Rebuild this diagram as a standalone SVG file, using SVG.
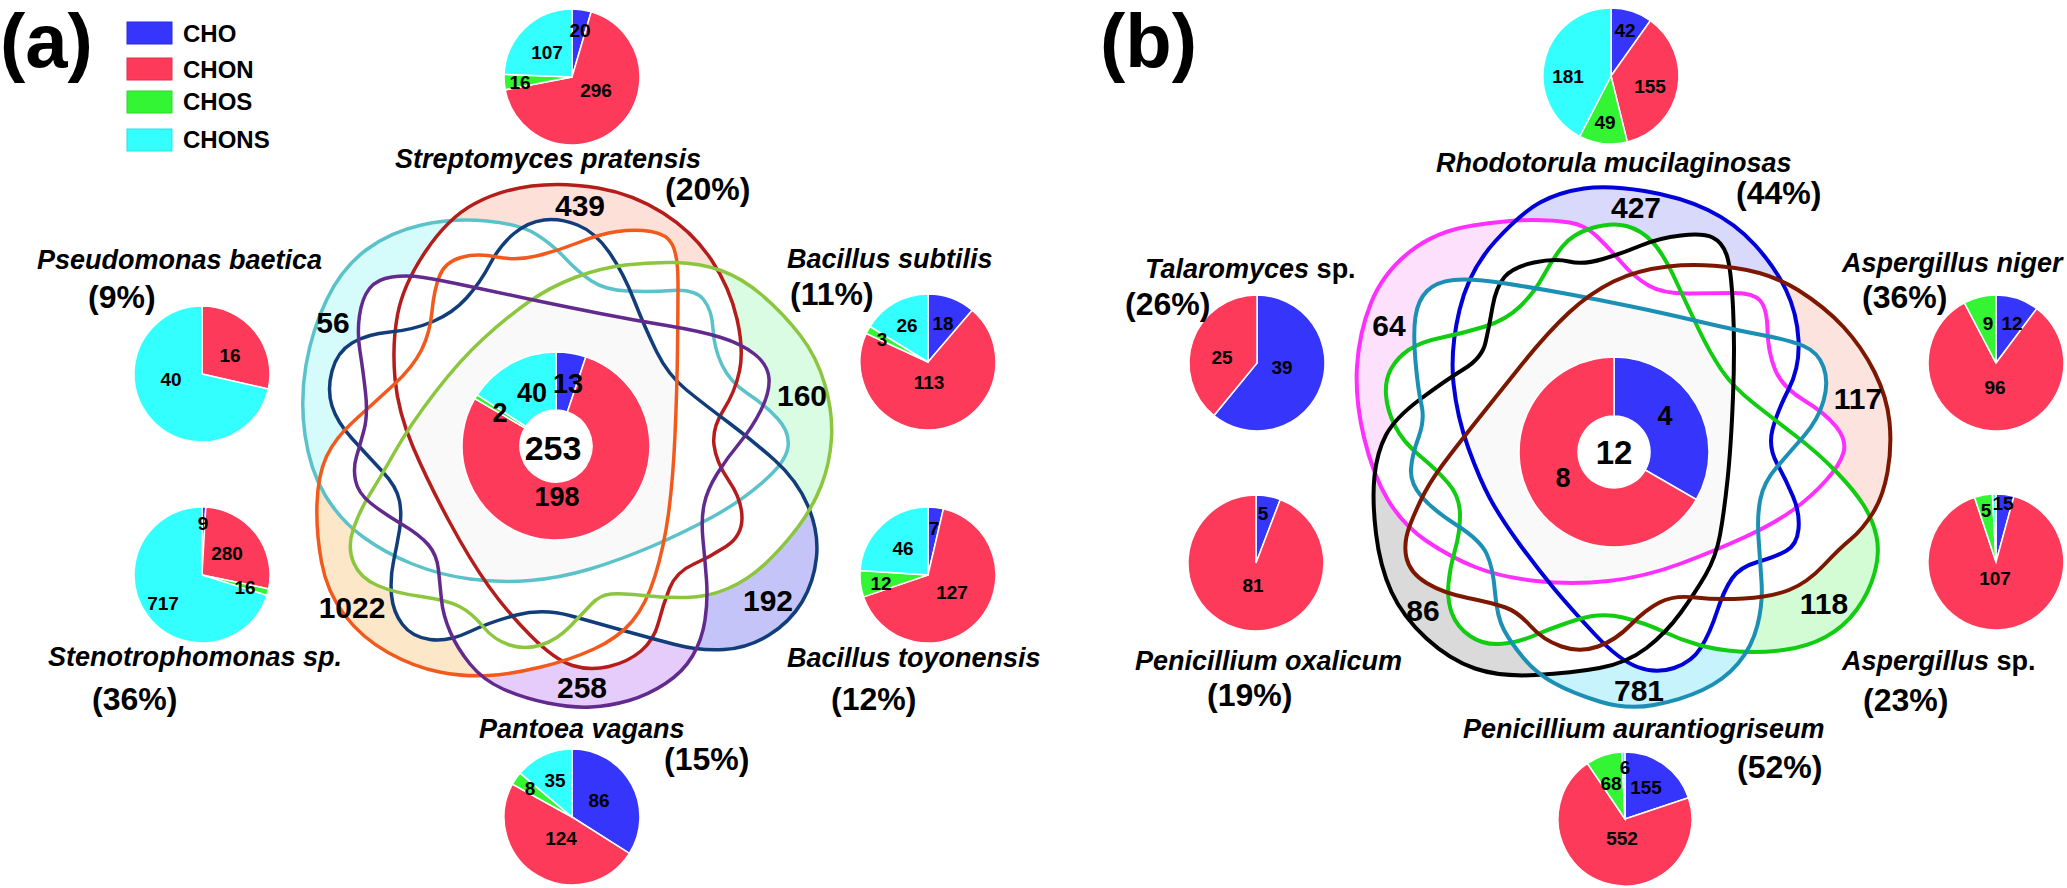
<svg xmlns="http://www.w3.org/2000/svg" width="2067" height="888" viewBox="0 0 2067 888">
<style>
text{font-family:"Liberation Sans",Arial,sans-serif;font-weight:bold;fill:#000}
.sp{font-size:27px;font-style:italic}
.pc{font-size:32px}
.rg{font-size:30px;text-anchor:middle}
.pl{font-size:19px;text-anchor:middle}
.dl{font-size:27px;text-anchor:middle}
.lg{font-size:24px}
.ca{fill:none;stroke-width:3.5}
.cb{fill:none;stroke-width:4}
.s{stroke:#fff;stroke-width:1.5}
.cho{fill:#3535fc}.chon{fill:#fd3a5a}.chos{fill:#33f533}.chons{fill:#33ffff}
</style>
<defs>
<path id="aR" d="M531.5,186 Q563,182 598,188 Q633,194 663,213 Q693,232 711.5,260 Q730,288 737,319 Q744,350 739.5,371 Q735,392 723.5,410 Q712,428 714,445 Q716,462 729,481 Q742,500 742,518 Q742,536 726,546.5 Q710,557 693,564.5 Q676,572 669.5,588.5 Q663,605 658.5,622.5 Q654,640 641,651 Q628,662 609,666.5 Q590,671 572.5,665.5 Q555,660 531,636 Q507,612 488.5,586 Q470,560 449,521 Q428,482 413,447 Q398,412 395,378.5 Q392,345 397.5,315 Q403,285 425.5,251.5 Q448,218 474,204 Q500,190 531.5,186 Z"/>
<path id="aC" d="M421.5,225 Q453,218 486.5,221 Q520,224 536.5,234.5 Q553,245 565.5,258.5 Q578,272 591.5,281 Q605,290 627.5,291 Q650,292 672.5,290.5 Q695,289 703.5,299.5 Q712,310 713,329 Q714,348 722,365 Q730,382 747.5,393.5 Q765,405 777.5,418.5 Q790,432 788,447 Q786,462 763,482 Q740,502 711.5,517.5 Q683,533 651.5,546.5 Q620,560 590,569 Q560,578 530,580.5 Q500,583 470,579 Q440,575 412.5,564 Q385,553 362.5,536.5 Q340,520 325,495 Q310,470 305,435 Q300,400 306,365 Q312,330 327,299 Q342,268 366,250 Q390,232 421.5,225 Z"/>
<path id="aN" d="M544,220 Q560,218 577.5,225 Q595,232 609,252 Q623,272 634,300 Q645,328 656.5,351.5 Q668,375 686.5,390 Q705,405 728.5,422.5 Q752,440 774.5,460 Q797,480 808,506 Q819,532 816.5,557 Q814,582 802,602 Q790,622 769,635 Q748,648 724,649.5 Q700,651 675,644.5 Q650,638 625,631 Q600,624 571.5,616 Q543,608 516.5,615 Q490,622 469,632 Q448,642 430,639.5 Q412,637 402.5,624.5 Q393,612 391.5,595 Q390,578 393.5,561.5 Q397,545 399.5,530 Q402,515 399.5,501 Q397,487 382,471 Q367,455 352,438.5 Q337,422 332,406 Q327,390 332,371 Q337,352 352,343 Q367,334 390,332 Q413,330 433,321.5 Q453,313 466.5,298 Q480,283 490,264 Q500,245 514,233.5 Q528,222 544,220 Z"/>
<path id="aO" d="M580,242 Q600,234 617.5,231.5 Q635,229 651,231.5 Q667,234 672.5,245 Q678,256 678,283 Q678,310 677.5,350 Q677,390 675,435 Q673,480 668.5,513.5 Q664,547 655,576 Q646,605 632,621.5 Q618,638 594,649 Q570,660 541,667 Q512,674 488.5,675.5 Q465,677 439.5,672 Q414,667 388,652.5 Q362,638 344.5,615 Q327,592 321.5,562 Q316,532 317,503.5 Q318,475 326.5,456.5 Q335,438 355,420 Q375,402 394,384.5 Q413,367 421.5,350 Q430,333 432,311.5 Q434,290 439.5,276 Q445,262 461,257.5 Q477,253 497,257 Q517,261 538.5,255.5 Q560,250 580,242 Z"/>
<path id="aG" d="M625,265 Q650,262 675,262.5 Q700,263 721,270.5 Q742,278 762.5,295.5 Q783,313 800,335 Q817,357 825,385 Q833,413 831.5,438 Q830,463 821.5,485 Q813,507 798,527 Q783,547 765.5,563.5 Q748,580 728,588.5 Q708,597 686.5,597.5 Q665,598 643.5,595.5 Q622,593 611,594 Q600,595 591.5,604 Q583,613 570,626.5 Q557,640 541,645 Q525,650 509.5,645 Q494,640 483,626.5 Q472,613 459.5,606.5 Q447,600 421,596.5 Q395,593 377.5,585.5 Q360,578 353.5,562.5 Q347,547 353.5,528.5 Q360,510 370,494 Q380,478 395,451.5 Q410,425 435,392.5 Q460,360 483.5,338.5 Q507,317 528.5,302 Q550,287 575,277.5 Q600,268 625,265 Z"/>
<path id="aP" d="M369.5,288.5 Q377,279 392,277 Q407,275 423.5,277.5 Q440,280 470,286.5 Q500,293 533.5,300 Q567,307 600,313.5 Q633,320 666.5,325.5 Q700,331 721,337.5 Q742,344 755,354.5 Q768,365 769,378.5 Q770,392 761,410 Q752,428 739.5,443 Q727,458 717,474 Q707,490 704,505 Q701,520 703,540 Q705,560 706.5,580 Q708,600 705,620 Q702,640 692.5,656 Q683,672 665.5,683.5 Q648,695 629,700.5 Q610,706 591,707 Q572,708 547.5,703 Q523,698 503,689 Q483,680 470,664 Q457,648 450,631.5 Q443,615 441.5,600 Q440,585 438.5,570 Q437,555 428.5,545 Q420,535 401.5,524 Q383,513 370.5,503 Q358,493 355.5,480.5 Q353,468 356.5,456.5 Q360,445 364,430 Q368,415 365.5,392.5 Q363,370 360,351.5 Q357,333 359.5,315.5 Q362,298 369.5,288.5 Z"/>
<path id="bM" d="M1473,225.5 Q1510,220 1532,220 Q1554,220 1569.5,222.5 Q1585,225 1596.5,236 Q1608,247 1621,262 Q1634,277 1648.5,285.5 Q1663,294 1690,293.5 Q1717,293 1735,293 Q1753,293 1760,300.5 Q1767,308 1767.5,330 Q1768,352 1775,369.5 Q1782,387 1803.5,400 Q1825,413 1836,426.5 Q1847,440 1843.5,452.5 Q1840,465 1825.5,481 Q1811,497 1793,510 Q1775,523 1746,536.5 Q1717,550 1681,563.5 Q1645,577 1608.5,581 Q1572,585 1536,581 Q1500,577 1475,567 Q1450,557 1426.5,541 Q1403,525 1388,500 Q1373,475 1364,437.5 Q1355,400 1357,366.5 Q1359,333 1371,303 Q1383,273 1409.5,252 Q1436,231 1473,225.5 Z"/>
<path id="bB" d="M1584,188.5 Q1608,185 1644.5,191 Q1681,197 1708,210 Q1735,223 1755,245 Q1775,267 1786,290 Q1797,313 1798.5,340 Q1800,367 1788.5,389.5 Q1777,412 1772.5,429.5 Q1768,447 1777,463.5 Q1786,480 1793,496.5 Q1800,513 1798.5,529 Q1797,545 1786,551 Q1775,557 1757.5,562 Q1740,567 1732,578.5 Q1724,590 1717,611.5 Q1710,633 1701,647.5 Q1692,662 1674,668 Q1656,674 1637.5,667 Q1619,660 1595.5,635 Q1572,610 1554,588.5 Q1536,567 1518,542 Q1500,517 1490,498.5 Q1480,480 1468.5,448.5 Q1457,417 1453.5,383.5 Q1450,350 1459.5,310 Q1469,270 1495.5,241 Q1522,212 1541,202 Q1560,192 1584,188.5 Z"/>
<path id="bG" d="M1592,228 Q1612,222 1626.5,226 Q1641,230 1652,241.5 Q1663,253 1675.5,280 Q1688,307 1699,330 Q1710,353 1721.5,370 Q1733,387 1754,403.5 Q1775,420 1796.5,436.5 Q1818,453 1836,471.5 Q1854,490 1863.5,505 Q1873,520 1876.5,536.5 Q1880,553 1874.5,573 Q1869,593 1856.5,610 Q1844,627 1825.5,637 Q1807,647 1783.5,650 Q1760,653 1738.5,651.5 Q1717,650 1699,645 Q1681,640 1663,631.5 Q1645,623 1623,617.5 Q1601,612 1577.5,619.5 Q1554,627 1535.5,635 Q1517,643 1500,644 Q1483,645 1470,636 Q1457,627 1452,613.5 Q1447,600 1448.5,583.5 Q1450,567 1455,550 Q1460,533 1460,515 Q1460,497 1448.5,483.5 Q1437,470 1420,456 Q1403,442 1395,426 Q1387,410 1386,395 Q1385,380 1391,369 Q1397,358 1408.5,350 Q1420,342 1442,337.5 Q1464,333 1485,326.5 Q1506,320 1520,306.5 Q1534,293 1543,276.5 Q1552,260 1562,247 Q1572,234 1592,228 Z"/>
<path id="bK" d="M1569,261.5 Q1583,265 1603,259 Q1623,253 1641,245.5 Q1659,238 1681,235.5 Q1703,233 1712.5,237.5 Q1722,242 1726.5,254.5 Q1731,267 1733,307 Q1735,347 1733,397 Q1731,447 1727.5,480 Q1724,513 1720,535 Q1716,557 1705.5,575 Q1695,593 1680.5,613 Q1666,633 1646.5,648 Q1627,663 1599.5,668 Q1572,673 1536,675 Q1500,677 1475,668.5 Q1450,660 1426.5,638.5 Q1403,617 1391.5,592 Q1380,567 1376,533.5 Q1372,500 1374.5,476 Q1377,452 1386,435 Q1395,418 1420.5,399 Q1446,380 1464,369 Q1482,358 1485.5,342.5 Q1489,327 1492.5,307 Q1496,287 1504.5,277 Q1513,267 1534,262.5 Q1555,258 1569,261.5 Z"/>
<path id="bT" d="M1453.5,280 Q1471,278 1506,283.5 Q1541,289 1570.5,294.5 Q1600,300 1631.5,306.5 Q1663,313 1699,321.5 Q1735,330 1762,335 Q1789,340 1803.5,346 Q1818,352 1823.5,367 Q1829,382 1823.5,401 Q1818,420 1803.5,436.5 Q1789,453 1776.5,467.5 Q1764,482 1760.5,498.5 Q1757,515 1758.5,537.5 Q1760,560 1761.5,581.5 Q1763,603 1757.5,625 Q1752,647 1738,663.5 Q1724,680 1702.5,690 Q1681,700 1654,705 Q1627,710 1599.5,701.5 Q1572,693 1554,683 Q1536,673 1523.5,658 Q1511,643 1504,630 Q1497,617 1495,592 Q1493,567 1486.5,553.5 Q1480,540 1456.5,525 Q1433,510 1421.5,496.5 Q1410,483 1411,469 Q1412,455 1418.5,437.5 Q1425,420 1421.5,405 Q1418,390 1415.5,361.5 Q1413,333 1415.5,316.5 Q1418,300 1427,291 Q1436,282 1453.5,280 Z"/>
<path id="bW" d="M1668,266.5 Q1699,263 1735,268 Q1771,273 1798,290 Q1825,307 1843.5,327 Q1862,347 1874.5,372 Q1887,397 1889.5,422 Q1892,447 1887.5,472 Q1883,497 1872.5,513.5 Q1862,530 1851,539 Q1840,548 1823.5,565.5 Q1807,583 1789,590 Q1771,597 1744,598.5 Q1717,600 1695.5,597.5 Q1674,595 1659.5,602.5 Q1645,610 1630.5,625 Q1616,640 1598,646.5 Q1580,653 1561.5,646.5 Q1543,640 1530.5,626 Q1518,612 1505.5,607.5 Q1493,603 1468,598 Q1443,593 1426.5,583 Q1410,573 1406.5,558 Q1403,543 1410,525 Q1417,507 1425,492 Q1433,477 1450,455 Q1467,433 1481,415.5 Q1495,398 1521,365.5 Q1547,333 1568.5,313 Q1590,293 1613.5,281.5 Q1637,270 1668,266.5 Z"/>
<mask id="mR" maskUnits="userSpaceOnUse" x="0" y="0" width="2067" height="888"><rect width="2067" height="888" fill="#fff"/><use href="#aC" fill="#000"/><use href="#aN" fill="#000"/><use href="#aO" fill="#000"/><use href="#aG" fill="#000"/><use href="#aP" fill="#000"/></mask>
<mask id="mC" maskUnits="userSpaceOnUse" x="0" y="0" width="2067" height="888"><rect width="2067" height="888" fill="#fff"/><use href="#aR" fill="#000"/><use href="#aN" fill="#000"/><use href="#aO" fill="#000"/><use href="#aG" fill="#000"/><use href="#aP" fill="#000"/></mask>
<mask id="mN" maskUnits="userSpaceOnUse" x="0" y="0" width="2067" height="888"><rect width="2067" height="888" fill="#fff"/><use href="#aR" fill="#000"/><use href="#aC" fill="#000"/><use href="#aO" fill="#000"/><use href="#aG" fill="#000"/><use href="#aP" fill="#000"/></mask>
<mask id="mO" maskUnits="userSpaceOnUse" x="0" y="0" width="2067" height="888"><rect width="2067" height="888" fill="#fff"/><use href="#aR" fill="#000"/><use href="#aC" fill="#000"/><use href="#aN" fill="#000"/><use href="#aG" fill="#000"/><use href="#aP" fill="#000"/></mask>
<mask id="mG" maskUnits="userSpaceOnUse" x="0" y="0" width="2067" height="888"><rect width="2067" height="888" fill="#fff"/><use href="#aR" fill="#000"/><use href="#aC" fill="#000"/><use href="#aN" fill="#000"/><use href="#aO" fill="#000"/><use href="#aP" fill="#000"/></mask>
<mask id="mP" maskUnits="userSpaceOnUse" x="0" y="0" width="2067" height="888"><rect width="2067" height="888" fill="#fff"/><use href="#aR" fill="#000"/><use href="#aC" fill="#000"/><use href="#aN" fill="#000"/><use href="#aO" fill="#000"/><use href="#aG" fill="#000"/></mask>
<mask id="nM" maskUnits="userSpaceOnUse" x="0" y="0" width="2067" height="888"><rect width="2067" height="888" fill="#fff"/><use href="#bB" fill="#000"/><use href="#bG" fill="#000"/><use href="#bK" fill="#000"/><use href="#bT" fill="#000"/><use href="#bW" fill="#000"/></mask>
<mask id="nB" maskUnits="userSpaceOnUse" x="0" y="0" width="2067" height="888"><rect width="2067" height="888" fill="#fff"/><use href="#bM" fill="#000"/><use href="#bG" fill="#000"/><use href="#bK" fill="#000"/><use href="#bT" fill="#000"/><use href="#bW" fill="#000"/></mask>
<mask id="nG" maskUnits="userSpaceOnUse" x="0" y="0" width="2067" height="888"><rect width="2067" height="888" fill="#fff"/><use href="#bM" fill="#000"/><use href="#bB" fill="#000"/><use href="#bK" fill="#000"/><use href="#bT" fill="#000"/><use href="#bW" fill="#000"/></mask>
<mask id="nK" maskUnits="userSpaceOnUse" x="0" y="0" width="2067" height="888"><rect width="2067" height="888" fill="#fff"/><use href="#bM" fill="#000"/><use href="#bB" fill="#000"/><use href="#bG" fill="#000"/><use href="#bT" fill="#000"/><use href="#bW" fill="#000"/></mask>
<mask id="nT" maskUnits="userSpaceOnUse" x="0" y="0" width="2067" height="888"><rect width="2067" height="888" fill="#fff"/><use href="#bM" fill="#000"/><use href="#bB" fill="#000"/><use href="#bG" fill="#000"/><use href="#bK" fill="#000"/><use href="#bW" fill="#000"/></mask>
<mask id="nW" maskUnits="userSpaceOnUse" x="0" y="0" width="2067" height="888"><rect width="2067" height="888" fill="#fff"/><use href="#bM" fill="#000"/><use href="#bB" fill="#000"/><use href="#bG" fill="#000"/><use href="#bK" fill="#000"/><use href="#bT" fill="#000"/></mask>
<clipPath id="k1"><use href="#aR"/></clipPath><clipPath id="k2"><use href="#aC"/></clipPath><clipPath id="k3"><use href="#aN"/></clipPath>
<clipPath id="k4"><use href="#aO"/></clipPath><clipPath id="k5"><use href="#aG"/></clipPath><clipPath id="k6"><use href="#aP"/></clipPath>
<clipPath id="j1"><use href="#bM"/></clipPath><clipPath id="j2"><use href="#bB"/></clipPath><clipPath id="j3"><use href="#bG"/></clipPath>
<clipPath id="j4"><use href="#bK"/></clipPath><clipPath id="j5"><use href="#bT"/></clipPath><clipPath id="j6"><use href="#bW"/></clipPath>
</defs>
<rect width="2067" height="888" fill="#fff"/>

<g id="panel-labels">
<text x="0" y="67" font-size="76">(a)</text>
<text x="1100" y="67" font-size="76">(b)</text>
</g>

<g id="legend">
<rect x="127" y="22" width="45" height="22" class="cho" stroke="#2a2ae0" stroke-width="1"/>
<rect x="127" y="58" width="45" height="22" class="chon" stroke="#e0304d" stroke-width="1"/>
<rect x="127" y="91" width="45" height="22" class="chos" stroke="#2ad82a" stroke-width="1"/>
<rect x="127" y="129" width="45" height="22" class="chons" stroke="#2ae0e0" stroke-width="1"/>
<text class="lg" x="183" y="42">CHO</text>
<text class="lg" x="183" y="78">CHON</text>
<text class="lg" x="183" y="110">CHOS</text>
<text class="lg" x="183" y="148">CHONS</text>
</g>

<g id="venn-a-regions">
<use href="#aR" fill="#fde1d9" mask="url(#mR)"/>
<use href="#aC" fill="#d5fbfb" mask="url(#mC)"/>
<use href="#aN" fill="#c4c4f8" mask="url(#mN)"/>
<use href="#aO" fill="#fde7c9" mask="url(#mO)"/>
<use href="#aG" fill="#d9fce3" mask="url(#mG)"/>
<use href="#aP" fill="#e6ccfa" mask="url(#mP)"/>
<g clip-path="url(#k1)"><g clip-path="url(#k2)"><g clip-path="url(#k3)"><g clip-path="url(#k4)"><g clip-path="url(#k5)"><g clip-path="url(#k6)"><rect x="250" y="150" width="650" height="600" fill="#f9f9f9"/></g></g></g></g></g></g>
</g>
<g id="venn-b-regions">
<use href="#bM" fill="#fde1fc" mask="url(#nM)"/>
<use href="#bB" fill="#d9d9fc" mask="url(#nB)"/>
<use href="#bG" fill="#d4fcd4" mask="url(#nG)"/>
<use href="#bK" fill="#dadada" mask="url(#nK)"/>
<use href="#bT" fill="#c6f3fc" mask="url(#nT)"/>
<use href="#bW" fill="#fde3de" mask="url(#nW)"/>
<g clip-path="url(#j1)"><g clip-path="url(#j2)"><g clip-path="url(#j3)"><g clip-path="url(#j4)"><g clip-path="url(#j5)"><g clip-path="url(#j6)"><rect x="1300" y="150" width="650" height="600" fill="#f9f9f9"/></g></g></g></g></g></g>
</g>

<g id="connectors">
<use href="#aC" class="ca" stroke="#5bc2c9"/>
<use href="#aR" class="ca" stroke="#b51c1c"/>
<use href="#aN" class="ca" stroke="#113d7a"/>
<use href="#aO" class="ca" stroke="#f25a1d"/>
<use href="#aG" class="ca" stroke="#8cc63f"/>
<use href="#aP" class="ca" stroke="#632a8e"/>
<use href="#bM" class="cb" stroke="#ff30ff"/>
<use href="#bB" class="cb" stroke="#0000d8"/>
<use href="#bG" class="cb" stroke="#11cc11"/>
<use href="#bK" class="cb" stroke="#000"/>
<use href="#bT" class="cb" stroke="#1c8fb5"/>
<use href="#bW" class="cb" stroke="#7c1800"/>
</g>

<g id="venn-a-counts">
<text class="rg" x="580" y="216">439</text>
<text class="rg" x="333" y="333">56</text>
<text class="rg" x="802" y="406">160</text>
<text class="rg" x="768" y="611">192</text>
<text class="rg" x="582" y="698">258</text>
<text class="rg" x="352" y="618">1022</text>
</g>
<g id="venn-b-counts">
<text class="rg" x="1636" y="218">427</text>
<text class="rg" x="1858" y="409">117</text>
<text class="rg" x="1824" y="614">118</text>
<text class="rg" x="1639" y="701">781</text>
<text class="rg" x="1423" y="621">86</text>
<text class="rg" x="1389" y="336">64</text>
</g>

<g id="donut-a">
<path class="cho s" d="M556,352 A94,94 0 0 1 585.8,356.9 L567.4,411.9 A36,36 0 0 0 556,410 Z"/>
<path class="chon s" d="M585.8,356.9 A94,94 0 1 1 474.8,398.7 L524.9,427.9 A36,36 0 1 0 567.4,411.9 Z"/>
<path class="chos s" d="M474.8,398.7 A94,94 0 0 1 477.2,394.8 L525.8,426.4 A36,36 0 0 0 524.9,427.9 Z"/>
<path class="chons s" d="M477.2,394.8 A94,94 0 0 1 556,352 L556,410 A36,36 0 0 0 525.8,426.4 Z"/>
<circle cx="556" cy="446" r="35" fill="#fff"/>
<text class="dl" x="568" y="393">13</text>
<text class="dl" x="532" y="402">40</text>
<text class="dl" x="500" y="422">2</text>
<text class="dl" x="557" y="506">198</text>
<text x="553" y="460" font-size="34" text-anchor="middle">253</text>
</g>

<g id="donut-b">
<path class="cho s" d="M1614,357 A95,95 0 0 1 1696.3,499.5 L1645.2,470 A36,36 0 0 0 1614,416 Z"/>
<path class="chon s" d="M1696.3,499.5 A95,95 0 1 1 1614,357 L1614,416 A36,36 0 1 0 1645.2,470 Z"/>
<circle cx="1614" cy="452" r="35" fill="#fff"/>
<text class="dl" x="1665" y="425">4</text>
<text class="dl" x="1563" y="487">8</text>
<text x="1614" y="464" font-size="33" text-anchor="middle">12</text>
</g>

<g id="streptomyces-pratensis">
<path class="cho s" d="M572,77 L572,9 A68,68 0 0 1 591.2,11.8 Z"/>
<path class="chon s" d="M572,77 L591.2,11.8 A68,68 0 1 1 505.2,89.8 Z"/>
<path class="chos s" d="M572,77 L505.2,89.8 A68,68 0 0 1 504.1,74.3 Z"/>
<path class="chons s" d="M572,77 L504.1,74.3 A68,68 0 0 1 572,9 Z"/>
<text class="pl" x="580" y="37">20</text>
<text class="pl" x="547" y="59">107</text>
<text class="pl" x="520" y="89">16</text>
<text class="pl" x="596" y="97">296</text>
<text class="sp" x="395" y="168">Streptomyces pratensis</text>
<text class="pc" x="665" y="200">(20%)</text>
</g>

<g id="pseudomonas-baetica">
<path class="chon s" d="M202,374 L202,306 A68,68 0 0 1 268.3,389.1 Z"/>
<path class="chons s" d="M202,374 L268.3,389.1 A68,68 0 1 1 202,306 Z"/>
<text class="pl" x="230" y="362">16</text>
<text class="pl" x="171" y="386">40</text>
<text class="sp" x="322" y="269" text-anchor="end">Pseudomonas baetica</text>
<text class="pc" x="88" y="308">(9%)</text>
</g>

<g id="stenotrophomonas-sp">
<path class="cho s" d="M202,575 L202,507 A68,68 0 0 1 205.8,507.1 Z"/>
<path class="chon s" d="M202,575 L205.8,507.1 A68,68 0 0 1 268.6,588.9 Z"/>
<path class="chos s" d="M202,575 L268.6,588.9 A68,68 0 0 1 266.9,595.4 Z"/>
<path class="chons s" d="M202,575 L266.9,595.4 A68,68 0 1 1 202,507 Z"/>
<text class="pl" x="203" y="530">9</text>
<text class="pl" x="227" y="560">280</text>
<text class="pl" x="245" y="594">16</text>
<text class="pl" x="163" y="610">717</text>
<text class="sp" x="342" y="666" text-anchor="end">Stenotrophomonas sp.</text>
<text class="pc" x="92" y="710">(36%)</text>
</g>

<g id="bacillus-subtilis">
<path class="cho s" d="M928,362 L928,294 A68,68 0 0 1 972.2,310.3 Z"/>
<path class="chon s" d="M928,362 L972.2,310.3 A68,68 0 1 1 866.2,333.5 Z"/>
<path class="chos s" d="M928,362 L866.2,333.5 A68,68 0 0 1 870,326.5 Z"/>
<path class="chons s" d="M928,362 L870,326.5 A68,68 0 0 1 928,294 Z"/>
<text class="pl" x="943" y="330">18</text>
<text class="pl" x="907" y="332">26</text>
<text class="pl" x="882" y="346">3</text>
<text class="pl" x="929" y="389">113</text>
<text class="sp" x="787" y="268">Bacillus subtilis</text>
<text class="pc" x="790" y="305">(11%)</text>
</g>

<g id="bacillus-toyonensis">
<path class="cho s" d="M928,575 L928,507 A68,68 0 0 1 943.4,508.8 Z"/>
<path class="chon s" d="M928,575 L943.4,508.8 A68,68 0 1 1 863.6,596.9 Z"/>
<path class="chos s" d="M928,575 L863.6,596.9 A68,68 0 0 1 860.1,570.6 Z"/>
<path class="chons s" d="M928,575 L860.1,570.6 A68,68 0 0 1 928,507 Z"/>
<text class="pl" x="934" y="535">7</text>
<text class="pl" x="903" y="555">46</text>
<text class="pl" x="881" y="590">12</text>
<text class="pl" x="952" y="599">127</text>
<text class="sp" x="787" y="667">Bacillus toyonensis</text>
<text class="pc" x="831" y="710">(12%)</text>
</g>

<g id="pantoea-vagans">
<path class="cho s" d="M572,817 L572,749 A68,68 0 0 1 629.4,853.4 Z"/>
<path class="chon s" d="M572,817 L629.4,853.4 A68,68 0 0 1 512.4,784.2 Z"/>
<path class="chos s" d="M572,817 L512.4,784.2 A68,68 0 0 1 520.1,773.1 Z"/>
<path class="chons s" d="M572,817 L520.1,773.1 A68,68 0 0 1 572,749 Z"/>
<text class="pl" x="599" y="807">86</text>
<text class="pl" x="555" y="787">35</text>
<text class="pl" x="530" y="795">8</text>
<text class="pl" x="561" y="845">124</text>
<text class="sp" x="479" y="738">Pantoea vagans</text>
<text class="pc" x="664" y="770">(15%)</text>
</g>

<g id="rhodotorula-mucilaginosas">
<path class="cho s" d="M1611,76 L1611,8 A68,68 0 0 1 1650.4,20.6 Z"/>
<path class="chon s" d="M1611,76 L1650.4,20.6 A68,68 0 0 1 1627.3,142 Z"/>
<path class="chos s" d="M1611,76 L1627.3,142 A68,68 0 0 1 1579.7,136.4 Z"/>
<path class="chons s" d="M1611,76 L1579.7,136.4 A68,68 0 0 1 1611,8 Z"/>
<text class="pl" x="1625" y="37">42</text>
<text class="pl" x="1650" y="93">155</text>
<text class="pl" x="1605" y="129">49</text>
<text class="pl" x="1568" y="83">181</text>
<text class="sp" x="1436" y="172">Rhodotorula mucilaginosas</text>
<text class="pc" x="1736" y="204">(44%)</text>
</g>

<g id="talaromyces-sp">
<path class="cho s" d="M1257,363 L1257,295 A68,68 0 1 1 1213.9,415.6 Z"/>
<path class="chon s" d="M1257,363 L1213.9,415.6 A68,68 0 0 1 1257,295 Z"/>
<text class="pl" x="1222" y="364">25</text>
<text class="pl" x="1282" y="374">39</text>
<text class="sp" x="1145" y="278">Talaromyces<tspan font-style="normal"> sp.</tspan></text>
<text class="pc" x="1125" y="315">(26%)</text>
</g>

<g id="penicillium-oxalicum">
<path class="cho s" d="M1256,563 L1256,495 A68,68 0 0 1 1280.3,499.5 Z"/>
<path class="chon s" d="M1256,563 L1280.3,499.5 A68,68 0 1 1 1256,495 Z"/>
<text class="pl" x="1263" y="520">5</text>
<text class="pl" x="1253" y="592">81</text>
<text class="sp" x="1135" y="670">Penicillium oxalicum</text>
<text class="pc" x="1207" y="706">(19%)</text>
</g>

<g id="aspergillus-niger">
<path class="cho s" d="M1996,363 L1996,295 A68,68 0 0 1 2036.8,308.6 Z"/>
<path class="chon s" d="M1996,363 L2036.8,308.6 A68,68 0 1 1 1964.4,302.8 Z"/>
<path class="chos s" d="M1996,363 L1964.4,302.8 A68,68 0 0 1 1996,295 Z"/>
<text class="pl" x="1988" y="330">9</text>
<text class="pl" x="2012" y="330">12</text>
<text class="pl" x="1995" y="394">96</text>
<text class="sp" x="1842" y="272">Aspergillus niger</text>
<text class="pc" x="1862" y="308">(36%)</text>
</g>

<g id="aspergillus-sp">
<path class="cho s" d="M1996,562 L1996,494 A68,68 0 0 1 2013.9,496.4 Z"/>
<path class="chon s" d="M1996,562 L2013.9,496.4 A68,68 0 1 1 1974.6,497.4 Z"/>
<path class="chos s" d="M1996,562 L1974.6,497.4 A68,68 0 0 1 1992.4,494.1 Z"/>
<path class="chons s" d="M1996,562 L1992.4,494.1 A68,68 0 0 1 1996,494 Z"/>
<text class="pl" x="1986" y="517">5</text>
<text class="pl" x="2003" y="510">15</text>
<text class="pl" x="1995" y="585">107</text>
<text class="sp" x="1842" y="670">Aspergillus<tspan font-style="normal"> sp.</tspan></text>
<text class="pc" x="1863" y="711">(23%)</text>
</g>

<g id="penicillium-aurantiogriseum">
<path class="cho s" d="M1625,819 L1625,752 A67,67 0 0 1 1688.5,797.7 Z"/>
<path class="chon s" d="M1625,819 L1688.5,797.7 A67,67 0 1 1 1587.5,763.5 Z"/>
<path class="chos s" d="M1625,819 L1587.5,763.5 A67,67 0 0 1 1621.8,752.1 Z"/>
<path class="chons s" d="M1625,819 L1621.8,752.1 A67,67 0 0 1 1625,752 Z"/>
<text class="pl" x="1625" y="774">6</text>
<text class="pl" x="1611" y="790">68</text>
<text class="pl" x="1646" y="794">155</text>
<text class="pl" x="1622" y="845">552</text>
<text class="sp" x="1463" y="738">Penicillium aurantiogriseum</text>
<text class="pc" x="1737" y="778">(52%)</text>
</g>
</svg>
